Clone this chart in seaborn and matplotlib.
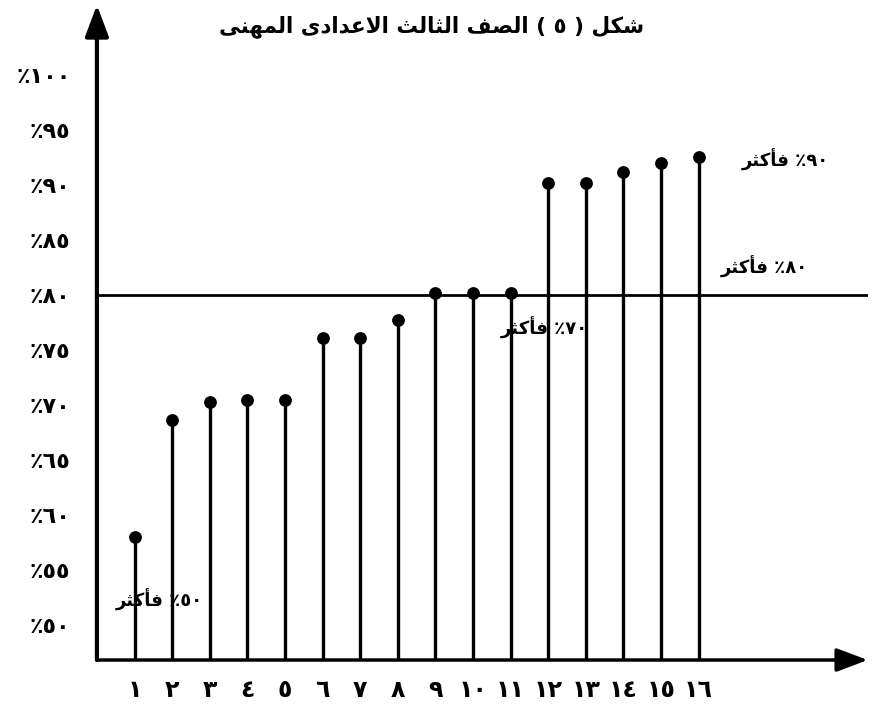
import matplotlib
matplotlib.use("Agg")
import matplotlib.pyplot as plt
import seaborn as sns
import pandas as pd

# ---------------------------------------------------------------------------
# Dados
# ---------------------------------------------------------------------------
categorias = list(range(1, 17))
valores = [58.0, 68.6, 70.3, 70.5, 70.5, 76.1, 76.1, 77.7,
           80.2, 80.2, 80.2, 90.2, 90.2, 91.2, 92.0, 92.6]
ticks_y = [50, 55, 60, 65, 70, 75, 80, 85, 90, 95, 100]
linha_ref = 80
titulo = "شكل ( ٥ ) الصف الثالث الاعدادى المهنى"
rotulo_faixa = "فأكثر"
faixas = [90, 80, 70, 50]
pos_faixas = [(18.3, 92.3), (17.75, 82.6), (11.9, 77.0), (1.66, 52.3)]

# ---------------------------------------------------------------------------
# Formas de apresentação árabes (matplotlib não faz shaping nem bidi)
# ---------------------------------------------------------------------------
FORMAS = {
    'ا': ('\uFE8D', '\uFE8E', None, None),
    'أ': ('\uFE83', '\uFE84', None, None),
    'د': ('\uFEA9', '\uFEAA', None, None),
    'ر': ('\uFEAD', '\uFEAE', None, None),
    'ى': ('\uFEEF', '\uFEF0', None, None),
    'ث': ('\uFE99', '\uFE9A', '\uFE9B', '\uFE9C'),
    'ش': ('\uFEB5', '\uFEB6', '\uFEB7', '\uFEB8'),
    'ص': ('\uFEB9', '\uFEBA', '\uFEBB', '\uFEBC'),
    'ع': ('\uFEC9', '\uFECA', '\uFECB', '\uFECC'),
    'ف': ('\uFED1', '\uFED2', '\uFED3', '\uFED4'),
    'ك': ('\uFED9', '\uFEDA', '\uFEDB', '\uFEDC'),
    'ل': ('\uFEDD', '\uFEDE', '\uFEDF', '\uFEE0'),
    'م': ('\uFEE1', '\uFEE2', '\uFEE3', '\uFEE4'),
    'ن': ('\uFEE5', '\uFEE6', '\uFEE7', '\uFEE8'),
    'ه': ('\uFEE9', '\uFEEA', '\uFEEB', '\uFEEC'),
    'لا': ('\uFEFB', '\uFEFC', None, None),
}
DIGITOS = str.maketrans('0123456789', '٠١٢٣٤٥٦٧٨٩')
ESPELHO = str.maketrans('()', ')(')


def moldar(palavra):
    letras = []
    i = 0
    while i < len(palavra):
        if palavra[i] == 'ل' and i + 1 < len(palavra) and palavra[i + 1] == 'ا':
            letras.append('لا')
            i += 2
        else:
            letras.append(palavra[i])
            i += 1
    saida = []
    for k, ch in enumerate(letras):
        if ch not in FORMAS:
            saida.append(ch)
            continue
        iso, fin, ini, med = FORMAS[ch]
        liga_ant = k > 0 and letras[k - 1] in FORMAS and FORMAS[letras[k - 1]][2] is not None
        liga_prox = ini is not None and k + 1 < len(letras) and letras[k + 1] in FORMAS
        if liga_ant and liga_prox:
            saida.append(med)
        elif liga_ant:
            saida.append(fin)
        elif liga_prox:
            saida.append(ini)
        else:
            saida.append(iso)
    return ''.join(saida)


def visual(texto):
    partes = []
    for tok in reversed(texto.split(' ')):
        if any(c in FORMAS or c == 'ل' for c in tok):
            partes.append(moldar(tok)[::-1])
        else:
            partes.append(tok.translate(ESPELHO))
    return ' '.join(partes)


def pct(v):
    return "٪" + str(v).translate(DIGITOS)


# ---------------------------------------------------------------------------
# Gráfico
# ---------------------------------------------------------------------------
sns.set_theme(style="white")
plt.rcParams['font.family'] = ['DejaVu Sans']
plt.rcParams['text.color'] = 'black'
plt.rcParams['xtick.color'] = 'black'
plt.rcParams['ytick.color'] = 'black'

df = pd.DataFrame({'cat': categorias, 'valor': valores})

fig = plt.figure(figsize=(8.81, 7.11), dpi=100)
ax = fig.add_axes([0.110, 0.0717, 0.875, 0.9213])
y_min, y_max = 46.8, 106.4
ax.set_xlim(0, 20.5)
ax.set_ylim(y_min, y_max)

# hastes verticais
ax.vlines(df['cat'], y_min, df['valor'], color='black', linewidth=2.4, zorder=2)
# pontos
sns.scatterplot(data=df, x='cat', y='valor', ax=ax, color='black', s=85,
                marker='o', edgecolor='black', linewidth=0, zorder=3, legend=False)

# linha de referência 80%
ax.axhline(linha_ref, color='black', linewidth=2, zorder=1, xmax=1.0)

# eixos com setas
for s in ax.spines.values():
    s.set_visible(False)
ax.annotate('', xy=(0, 1), xytext=(0, 0), xycoords='axes fraction',
            arrowprops=dict(arrowstyle='-|>,head_length=1.6,head_width=0.6',
                            color='black', lw=3, shrinkA=0, shrinkB=0))
ax.annotate('', xy=(1, 0), xytext=(0, 0), xycoords='axes fraction',
            arrowprops=dict(arrowstyle='-|>,head_length=1.6,head_width=0.6',
                            color='black', lw=2.5, shrinkA=0, shrinkB=0))

ax.set_yticks(ticks_y)
ax.set_yticklabels([pct(v) for v in ticks_y], fontsize=16, fontweight='bold')
ax.set_xticks(categorias)
ax.set_xticklabels([str(c).translate(DIGITOS) for c in categorias],
                   fontsize=17, fontweight='bold')
ax.tick_params(axis='y', length=0, pad=19)
ax.tick_params(axis='x', length=0, pad=13)
ax.set_xlabel('')
ax.set_ylabel('')

# rótulos das faixas
for f, (x, y) in zip(faixas, pos_faixas):
    ax.text(x, y, visual(rotulo_faixa) + ' ' + pct(f), ha='center', va='center',
            fontsize=13, fontweight='bold', color='black', zorder=4)

fig.text(432 / 881, 1 - 27 / 711, visual(titulo), ha='center', va='center',
         fontsize=15.5, fontweight='bold', color='black')

fig.savefig('out.png', dpi=100)
